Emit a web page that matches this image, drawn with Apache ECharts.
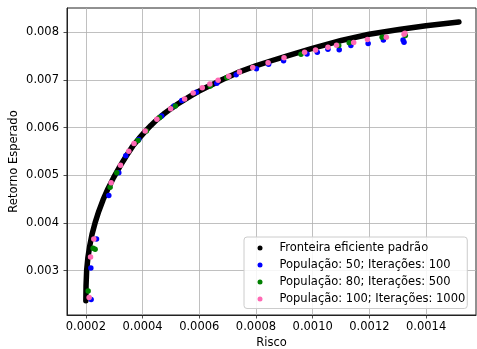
<!DOCTYPE html>
<html>
<head>
<meta charset="utf-8">
<script src="https://cdn.jsdelivr.net/npm/echarts@6/dist/echarts.min.js"></script>
<style>html,body{margin:0;padding:0;background:#fff}#c{width:477px;height:349px}</style>
</head>
<body>
<div id="c"></div>
<script>
// Efficient frontier (dense black curve): [risk, expected return]
var frontier = [
  [0.0002000, 0.002366], [0.0002007, 0.002691], [0.0002028, 0.003006], [0.0002070, 0.003258],
  [0.0002134, 0.003510], [0.0002218, 0.003763], [0.0002327, 0.004004], [0.0002457, 0.004246],
  [0.0002609, 0.004487], [0.0002781, 0.004718], [0.0002978, 0.004950], [0.0003196, 0.005181],
  [0.0003425, 0.005405], [0.0003653, 0.005611], [0.0003875, 0.005773], [0.0004093, 0.005920],
  [0.0004294, 0.006046], [0.0004498, 0.006162], [0.0004744, 0.006284], [0.0004990, 0.006393],
  [0.0005237, 0.006494], [0.0005483, 0.006588], [0.0005730, 0.006676], [0.0005975, 0.006760],
  [0.0006257, 0.006847], [0.0006538, 0.006924], [0.0006820, 0.007008], [0.0007119, 0.007090],
  [0.0007418, 0.007170], [0.0008016, 0.007300], [0.0008543, 0.007403], [0.0009106, 0.007506],
  [0.0009986, 0.007664], [0.0011006, 0.007828], [0.0011991, 0.007958], [0.0013046, 0.008059],
  [0.0013996, 0.008139], [0.0015157, 0.008218]
];
// População: 50; Iterações: 100
var pop50 = [
  [0.0002186, 0.002391], [0.0002176, 0.003055], [0.0002376, 0.003664], [0.0002809, 0.004576],
  [0.0003161, 0.005050], [0.0003407, 0.005408], [0.0003865, 0.005748], [0.0004674, 0.006242],
  [0.0005106, 0.006452], [0.0005384, 0.006571], [0.0005894, 0.006742], [0.0006619, 0.006931],
  [0.0007302, 0.007107], [0.0008016, 0.007233], [0.0008445, 0.007328], [0.0008973, 0.007403],
  [0.0009800, 0.007544], [0.0010162, 0.007580], [0.0010538, 0.007643], [0.0010936, 0.007634],
  [0.0011347, 0.007723], [0.0011956, 0.007765], [0.0012494, 0.007838], [0.0013187, 0.007838],
  [0.0013222, 0.007790]
];
// População: 80; Iterações: 500
var pop80 = [
  [0.0002081, 0.002571], [0.0002257, 0.003468], [0.0002327, 0.003447], [0.0002855, 0.004750],
  [0.0003091, 0.005050], [0.0003840, 0.005727], [0.0004135, 0.005926], [0.0004603, 0.006214],
  [0.0005156, 0.006452], [0.0006387, 0.006872], [0.0006971, 0.007050], [0.0009588, 0.007538],
  [0.0010918, 0.007723], [0.0011288, 0.007781], [0.0012449, 0.007895], [0.0013268, 0.007933]
];
// População: 100; Iterações: 1000
var pop100 = [
  [0.0002116, 0.002433], [0.0002165, 0.003286], [0.0002281, 0.003664], [0.0002890, 0.004840],
  [0.0003221, 0.005212], [0.0003513, 0.005506], [0.0003699, 0.005668], [0.0004093, 0.005926],
  [0.0004505, 0.006174], [0.0004990, 0.006397], [0.0005483, 0.006599], [0.0005785, 0.006725],
  [0.0006106, 0.006836], [0.0006373, 0.006914], [0.0006665, 0.006992], [0.0007041, 0.007076],
  [0.0007418, 0.007166], [0.0007886, 0.007260], [0.0008427, 0.007361], [0.0008990, 0.007466],
  [0.0009715, 0.007580], [0.0010102, 0.007628], [0.0010538, 0.007685], [0.0010841, 0.007727],
  [0.0011446, 0.007786], [0.0011931, 0.007849], [0.0012597, 0.007895], [0.0013223, 0.007958],
  [0.0013251, 0.007981]
];
var xTicks = [0.0002, 0.0004, 0.0006, 0.0008, 0.0010, 0.0012, 0.0014];
var yTicks = [0.003, 0.004, 0.005, 0.006, 0.007, 0.008];
var seriesNames = ['Fronteira eficiente padrão', 'População: 50; Iterações: 100', 'População: 80; Iterações: 500', 'População: 100; Iterações: 1000'];
var xLabel = 'Risco';
var yLabel = 'Retorno Esperado';

var FONT = 'DejaVu Sans';
var FS = 11.5;
var chart = echarts.init(document.getElementById('c'), null, {renderer: 'canvas'});
var gridColor = '#b0b0b0';
chart.setOption({
  animation: false,
  backgroundColor: '#fff',
  textStyle: {fontFamily: FONT},
  grid: {left: 67, right: 1, top: 8, bottom: 34, show: true, borderColor: '#222', borderWidth: 1,
    containLabel: false, outerBoundsMode: 'none'},
  xAxis: {
    type: 'value', min: 0.0001335, max: 0.001576,
    name: xLabel, nameLocation: 'middle', nameGap: 22, nameMoveOverlap: false,
    nameTextStyle: {fontFamily: FONT, fontSize: FS, color: '#000'},
    axisLine: {show: true, onZero: false, lineStyle: {color: '#222', width: 1}},
    axisTick: {show: true, length: 3.5, customValues: xTicks, lineStyle: {color: '#222', width: 0.8}},
    axisLabel: {customValues: xTicks, margin: 6, fontFamily: FONT, fontSize: FS, color: '#000',
      formatter: function (v) { return v.toFixed(4); }},
    splitLine: {show: true, lineStyle: {color: gridColor, width: 0.8}}
  },
  yAxis: {
    type: 'value', min: 0.002067, max: 0.00851,
    name: yLabel, nameLocation: 'middle', nameGap: 46.5, nameRotate: 90, nameMoveOverlap: false,
    nameTextStyle: {fontFamily: FONT, fontSize: FS, color: '#000'},
    axisLine: {show: true, onZero: false, lineStyle: {color: '#222', width: 1}},
    axisTick: {show: true, length: 3.5, customValues: yTicks, lineStyle: {color: '#222', width: 0.8}},
    axisLabel: {customValues: yTicks, margin: 8, fontFamily: FONT, fontSize: FS, color: '#000',
      formatter: function (v) { return v.toFixed(3); }},
    splitLine: {show: true, lineStyle: {color: gridColor, width: 0.8}}
  },
  legend: {
    orient: 'vertical', left: 244, top: 237,
    padding: [4, 2, 2.5, 13.5],
    itemWidth: 29, itemHeight: 5, itemGap: 3,
    backgroundColor: 'rgba(255,255,255,0.85)', borderColor: '#cccccc', borderWidth: 1, borderRadius: 3,
    textStyle: {fontFamily: FONT, fontSize: FS, color: '#000', lineHeight: 14},
    data: seriesNames.map(function (n) { return {name: n, icon: 'circle'}; })
  },
  series: [
    {name: seriesNames[0], type: 'line', data: frontier, showSymbol: false, symbol: 'circle',
      smooth: false, color: '#000', lineStyle: {color: '#000', width: 5.5, cap: 'round', join: 'round'}, z: 2},
    {name: seriesNames[1], type: 'scatter', data: pop50, symbol: 'circle', symbolSize: 5.5, itemStyle: {color: '#0000ff', opacity: 1}, z: 3},
    {name: seriesNames[2], type: 'scatter', data: pop80, symbol: 'circle', symbolSize: 5.5, itemStyle: {color: '#008000', opacity: 1}, z: 4},
    {name: seriesNames[3], type: 'scatter', data: pop100, symbol: 'circle', symbolSize: 5.5, itemStyle: {color: '#ff69b4', opacity: 1}, z: 5}
  ]
});
</script>
</body>
</html>
